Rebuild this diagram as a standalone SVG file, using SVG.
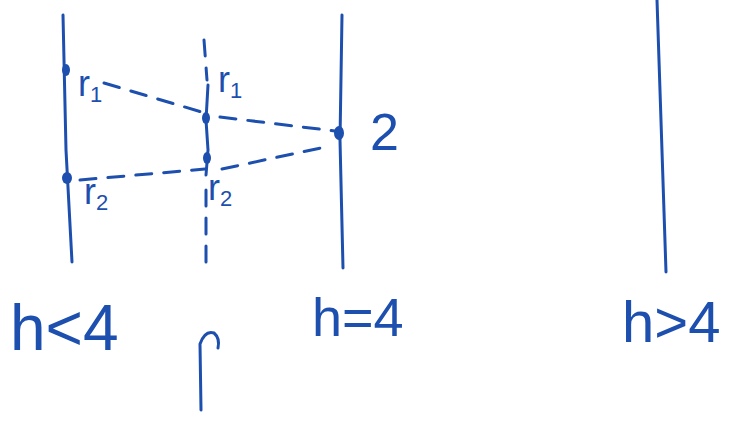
<svg xmlns="http://www.w3.org/2000/svg" width="739" height="425" viewBox="0 0 739 425">
<style>
.ink{stroke:#1d4fae;stroke-width:3;fill:none;stroke-linecap:round;stroke-linejoin:round}
.dash{stroke-dasharray:16 12}
.dot{fill:#1d4fae}
.t{fill:#1d4fae;font-family:"Liberation Sans",Arial,sans-serif}
</style>
<rect width="739" height="425" fill="#ffffff"/>
<g id="screens">
  <path class="ink" d="M63,15 L66,150 L72,262"/>
  <path class="ink" d="M342,15 L340,140 L343,268"/>
  <path class="ink" d="M657,0 L666,272"/>
  <path class="ink dash" d="M204,40 L207,80"/>
  <path class="ink" d="M208,85 L206,120 L208,150 L206,175"/>
  <path class="ink dash" d="M206,190 L206,262"/>
</g>
<g id="points">
  <ellipse class="dot" cx="66" cy="70" rx="4" ry="6"/>
  <ellipse class="dot" cx="67" cy="178" rx="5" ry="6"/>
  <ellipse class="dot" cx="206" cy="118" rx="4" ry="6"/>
  <ellipse class="dot" cx="207" cy="158" rx="4" ry="6"/>
  <ellipse class="dot" cx="339" cy="133" rx="5" ry="7"/>
</g>
<g id="connectors">
  <path class="ink dash" d="M104,83 L205,113"/>
  <path class="ink dash" d="M220,117 L335,131"/>
  <path class="ink dash" d="M80,180 L205,169"/>
  <path class="ink dash" d="M222,169 L330,146"/>
</g>
<g id="labels">
  <text class="t" x="78" y="96" font-size="36">r<tspan font-size="22" dy="6">1</tspan></text>
  <text class="t" x="218" y="92" font-size="36">r<tspan font-size="22" dy="6">1</tspan></text>
  <text class="t" x="84" y="204" font-size="36">r<tspan font-size="22" dy="6">2</tspan></text>
  <text class="t" x="208" y="200" font-size="36">r<tspan font-size="22" dy="6">2</tspan></text>
  <text class="t" x="370" y="150" font-size="52">2</text>
  <text class="t" x="10" y="350" font-size="64">h&lt;4</text>
  <text class="t" x="312" y="336" font-size="54">h=4</text>
  <text class="t" x="622" y="342" font-size="58">h&gt;4</text>
</g>
<g id="pointer">
  <path class="ink" d="M201,410 L200,344 Q205,330 214,333 Q220,338 218,348"/>
</g>
</svg>
